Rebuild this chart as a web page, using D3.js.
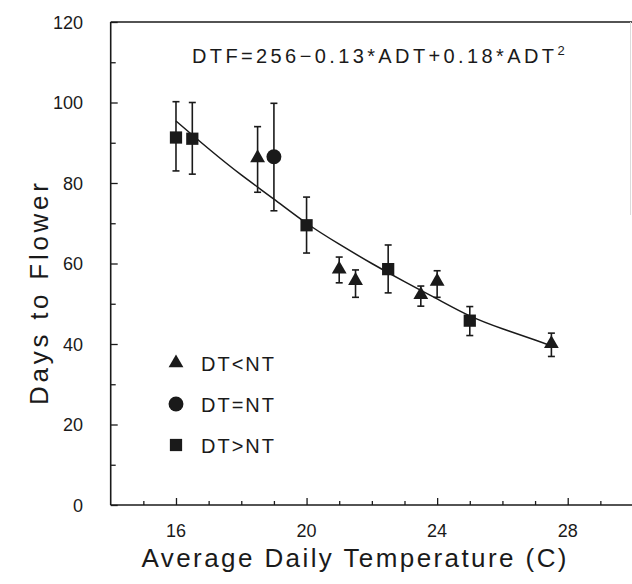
<!DOCTYPE html>
<html>
<head>
<meta charset="utf-8">
<script src="https://cdn.jsdelivr.net/npm/d3@7"></script>
<style>
  body { margin: 0; background: #fff; }
  svg text { font-family: "Liberation Sans", Arial, sans-serif; fill: #1a1a1a; }
</style>
</head>
<body>
<div id="chart"></div>
<script>
// DT<NT (triangles)
const triX = [18.5, 21, 21.5, 23.5, 24, 27.5];
const triY = [86, 58.3, 55.5, 52, 55.3, 39.8];
const triLo = [77.7, 55.2, 51.6, 49.4, 51.6, 36.9];
const triHi = [94, 61.6, 58.4, 54.4, 58.2, 42.7];

// DT=NT (circle)
const cirX = [19];
const cirY = [86.5];
const cirLo = [73.1];
const cirHi = [99.8];

// DT>NT (squares)
const sqX = [16, 16.5, 20, 22.5, 25];
const sqY = [91.3, 91, 69.5, 58.6, 45.8];
const sqLo = [83, 82.2, 62.6, 52.7, 42.1];
const sqHi = [100.2, 100, 76.5, 64.6, 49.3];

// fitted curve
const fitX = [16, 17, 18, 19, 20, 21, 22, 23, 24, 25, 26, 27, 27.5];
const fitY = [95.4, 88.5, 82, 76, 70, 64.8, 60, 55.5, 51.2, 47, 43.8, 41, 39.5];

const xMajor = [16, 20, 24, 28];
const yMajor = [0, 20, 40, 60, 80, 100, 120];
const legendLabels = ["DT<NT", "DT=NT", "DT>NT"];
const equation = "DTF=256\u22120.13*ADT+0.18*ADT";

const width = 632;
const height = 584;
const ink = "#1a1a1a";

const svg = d3
  .select("#chart")
  .append("svg")
  .attr("width", width)
  .attr("height", height);

const x = d3.scaleLinear().domain([14, 30]).range([110.7, 633]);
const y = d3.scaleLinear().domain([0, 120]).range([505, 22]);

// frame
svg.append("line")
  .attr("x1", x(14)).attr("x2", x(14))
  .attr("y1", y(0)).attr("y2", y(120))
  .attr("stroke", ink).attr("stroke-width", 1.6);
svg.append("line")
  .attr("x1", x(14)).attr("x2", 632)
  .attr("y1", y(0)).attr("y2", y(0))
  .attr("stroke", ink).attr("stroke-width", 1.6);
svg.append("line")
  .attr("x1", x(14)).attr("x2", 632)
  .attr("y1", y(120)).attr("y2", y(120))
  .attr("stroke", ink).attr("stroke-width", 1.4);
svg.append("line")
  .attr("x1", 630.5).attr("x2", 630.5)
  .attr("y1", y(120)).attr("y2", 215)
  .attr("stroke", "#dcdcdc").attr("stroke-width", 1);

// y axis: ticks point inward, labels outside
const yAxis = d3.axisRight(y)
  .tickValues(d3.range(0, 121, 10))
  .tickSize(6)
  .tickFormat("");
const gy = svg.append("g")
  .attr("transform", `translate(${x(14)},0)`)
  .call(yAxis);
gy.select(".domain").remove();
gy.selectAll(".tick line")
  .attr("stroke", ink)
  .attr("stroke-width", 1.3)
  .attr("x2", (d) => (d % 20 === 0 ? 7 : 5));

svg.append("g")
  .selectAll("text")
  .data(yMajor)
  .join("text")
  .attr("x", 83)
  .attr("y", (d) => y(d) + 6.5)
  .attr("text-anchor", "end")
  .style("font-size", "18px")
  .text((d) => d);

// x axis
const xAxis = d3.axisTop(x)
  .tickValues(d3.range(15, 30, 1))
  .tickSize(6)
  .tickFormat("");
const gx = svg.append("g")
  .attr("transform", `translate(0,${y(0)})`)
  .call(xAxis);
gx.select(".domain").remove();
gx.selectAll(".tick line")
  .attr("stroke", ink)
  .attr("stroke-width", 1.3)
  .attr("y2", (d) => (xMajor.includes(d) ? -7 : -4));

svg.append("g")
  .selectAll("text")
  .data(xMajor)
  .join("text")
  .attr("x", (d) => x(d))
  .attr("y", 537)
  .attr("text-anchor", "middle")
  .style("font-size", "18px")
  .text((d) => d);

// axis titles
svg.append("text")
  .attr("x", 141.5)
  .attr("y", 567)
  .attr("textLength", 425)
  .attr("lengthAdjust", "spacing")
  .style("font-size", "26px")
  .text("Average Daily Temperature (C)");

svg.append("text")
  .attr("transform", "translate(48,405) rotate(-90)")
  .attr("textLength", 222)
  .attr("lengthAdjust", "spacing")
  .style("font-size", "26px")
  .text("Days to Flower");

// equation
const eq = svg.append("text")
  .attr("x", 192)
  .attr("y", 63)
  .style("font-size", "20px");
eq.append("tspan")
  .attr("textLength", 362)
  .attr("lengthAdjust", "spacing")
  .text(equation);
eq.append("tspan")
  .attr("dy", -8)
  .style("font-size", "13px")
  .text("2");

// fitted curve
const line = d3.line()
  .x((d, i) => x(fitX[i]))
  .y((d) => y(d))
  .curve(d3.curveNatural);
svg.append("path")
  .datum(fitY)
  .attr("d", line)
  .attr("fill", "none")
  .attr("stroke", ink)
  .attr("stroke-width", 1.5);

// error bars + markers
const groups = [
  { xs: triX, ys: triY, lo: triLo, hi: triHi, type: d3.symbolTriangle, size: 95, dy: -1 },
  { xs: cirX, ys: cirY, lo: cirLo, hi: cirHi, type: d3.symbolCircle, size: 175, dy: 0 },
  { xs: sqX, ys: sqY, lo: sqLo, hi: sqHi, type: d3.symbolSquare, size: 150, dy: 0 },
];

groups.forEach((grp) => {
  const pts = grp.xs.map((v, i) => ({ x: v, y: grp.ys[i], lo: grp.lo[i], hi: grp.hi[i] }));
  const eb = svg.append("g").attr("stroke", ink).attr("stroke-width", 1.6);
  eb.selectAll("line.v")
    .data(pts)
    .join("line")
    .attr("x1", (d) => x(d.x)).attr("x2", (d) => x(d.x))
    .attr("y1", (d) => y(d.lo)).attr("y2", (d) => y(d.hi));
  eb.selectAll("line.top")
    .data(pts)
    .join("line")
    .attr("x1", (d) => x(d.x) - 3.5).attr("x2", (d) => x(d.x) + 3.5)
    .attr("y1", (d) => y(d.hi)).attr("y2", (d) => y(d.hi));
  eb.selectAll("line.bot")
    .data(pts)
    .join("line")
    .attr("x1", (d) => x(d.x) - 3.5).attr("x2", (d) => x(d.x) + 3.5)
    .attr("y1", (d) => y(d.lo)).attr("y2", (d) => y(d.lo));
  svg.append("g")
    .selectAll("path")
    .data(pts)
    .join("path")
    .attr("d", d3.symbol().type(grp.type).size(grp.size))
    .attr("transform", (d) => `translate(${x(d.x)},${y(d.y) + grp.dy})`)
    .attr("fill", ink);
});

// legend
const legendTypes = [d3.symbolTriangle, d3.symbolCircle, d3.symbolSquare];
const legendSizes = [95, 175, 150];
const lg = svg.append("g").selectAll("g")
  .data(legendLabels)
  .join("g")
  .attr("transform", (d, i) => `translate(176,${363 + i * 41})`);
lg.append("path")
  .attr("d", (d, i) => d3.symbol().type(legendTypes[i]).size(legendSizes[i])())
  .attr("fill", ink);
lg.append("text")
  .attr("x", 25)
  .attr("y", 7.5)
  .style("font-size", "20px")
  .style("letter-spacing", "2px")
  .text((d) => d);
</script>
</body>
</html>
